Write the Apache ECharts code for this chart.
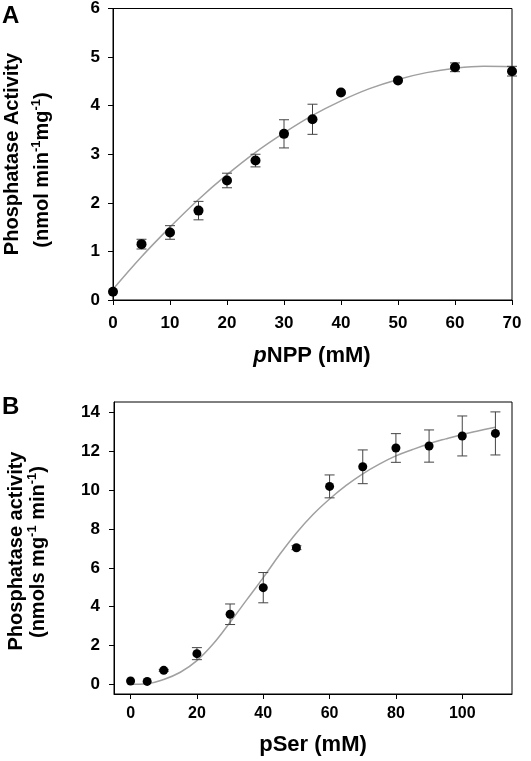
<!DOCTYPE html>
<html>
<head>
<meta charset="utf-8">
<script src="https://cdn.jsdelivr.net/npm/echarts@6/dist/echarts.min.js"></script>
<style>
html,body{margin:0;padding:0;background:#fff;}
#chart{width:531px;height:761px;}
</style>
</head>
<body>
<div id="chart"></div>
<script>
// ---- Panel A data (pNPP) ----
const aX = [0, 5, 10, 15, 20, 25, 30, 35, 40, 50, 60, 70];
const aY = [0.17, 1.15, 1.39, 1.84, 2.46, 2.87, 3.42, 3.72, 4.27, 4.52, 4.79, 4.71];
const aErr = [0, 0.1, 0.14, 0.19, 0.15, 0.13, 0.29, 0.31, 0, 0, 0.09, 0.1];
const aFitX = [0, 5, 10, 15, 20, 25, 30, 35, 40, 45, 50, 55, 60, 65, 70];
const aFitY = [0.22, 0.89, 1.50, 2.07, 2.58, 3.04, 3.44, 3.80, 4.10, 4.35, 4.54, 4.68, 4.77, 4.81, 4.80];

// ---- Panel B data (pSer) ----
const bX = [0, 5, 10, 20, 30, 40, 50, 60, 70, 80, 90, 100, 110];
const bY = [0.17, 0.15, 0.72, 1.58, 3.61, 4.98, 7.04, 10.2, 11.21, 12.18, 12.28, 12.8, 12.93];
const bErr = [0, 0, 0.05, 0.31, 0.53, 0.78, 0.1, 0.59, 0.87, 0.74, 0.83, 1.03, 1.11];
const bFitX = [0, 5, 10, 15, 20, 25, 30, 35, 40, 45, 50, 55, 60, 65, 70, 75, 80, 85, 90, 95, 100, 105, 110];
const bFitY = [0.0, 0.03, 0.25, 0.62, 1.22, 2.1, 3.2, 4.35, 5.5, 6.7, 7.8, 8.75, 9.55, 10.25, 10.85, 11.35, 11.77, 12.1, 12.4, 12.65, 12.88, 13.07, 13.25];
const bTicksX = [0, 20, 40, 60, 80, 100];
const bTicksY = [0, 2, 4, 6, 8, 10, 12, 14];

const FONT = 'Liberation Sans, Arial, sans-serif';
const pts = (xs, ys) => xs.map((x, i) => [x, ys[i]]);
const errs = (xs, ys, es) => xs.map((x, i) => [x, ys[i] - es[i], ys[i] + es[i]]).filter((d, i) => es[i] > 0);

function errRender(params, api) {
  const x = api.value(0), lo = api.value(1), hi = api.value(2);
  const p1 = api.coord([x, lo]), p2 = api.coord([x, hi]);
  const w = 5;
  const st = { stroke: '#444', lineWidth: 1 };
  return { type: 'group', children: [
    { type: 'line', shape: { x1: p1[0], y1: p1[1], x2: p2[0], y2: p2[1] }, style: st },
    { type: 'line', shape: { x1: p1[0] - w, y1: p1[1], x2: p1[0] + w, y2: p1[1] }, style: st },
    { type: 'line', shape: { x1: p2[0] - w, y1: p2[1], x2: p2[0] + w, y2: p2[1] }, style: st }
  ]};
}

const axisCommon = {
  axisLine: { show: true, onZero: false, lineStyle: { color: '#000', width: 1 } },
  axisTick: { show: true, length: 5, lineStyle: { color: '#000', width: 1 } },
  splitLine: { show: false }
};
const supRich = { s: { fontSize: 13, fontWeight: 'bold', fill: '#000', fontFamily: FONT, verticalAlign: 'top', padding: [0, 0, 11, 0] } };

const chart = echarts.init(document.getElementById('chart'), null, { renderer: 'canvas' });
const option = {
  animation: false,
  backgroundColor: '#fff',
  grid: [
    { left: 113, top: 8, width: 399, height: 292, show: true, borderColor: '#000', borderWidth: 1, backgroundColor: 'transparent' },
    { left: 114, top: 402, width: 398, height: 292, show: true, borderColor: '#000', borderWidth: 1, backgroundColor: 'transparent' }
  ],
  xAxis: [
    Object.assign({ type: 'value', gridIndex: 0, min: 0, max: 70, interval: 10,
      axisLabel: { margin: 15, fontSize: 17, fontWeight: 'bold', color: '#000', fontFamily: FONT } }, axisCommon),
    Object.assign({ type: 'value', gridIndex: 1, min: -5, max: 115,
      axisLabel: { margin: 12, fontSize: 16, fontWeight: 'bold', color: '#000', fontFamily: FONT, customValues: bTicksX } }, axisCommon,
      { axisTick: { show: true, length: 5, lineStyle: { color: '#000', width: 1 }, customValues: bTicksX } })
  ],
  yAxis: [
    Object.assign({ type: 'value', gridIndex: 0, min: 0, max: 6, interval: 1,
      axisLabel: { margin: 13, fontSize: 17, fontWeight: 'bold', color: '#000', fontFamily: FONT } }, axisCommon),
    Object.assign({ type: 'value', gridIndex: 1, min: -0.5, max: 14.55,
      axisLabel: { margin: 14, fontSize: 17, fontWeight: 'bold', color: '#000', fontFamily: FONT, customValues: bTicksY } }, axisCommon,
      { axisTick: { show: true, length: 5, lineStyle: { color: '#000', width: 1 }, customValues: bTicksY } })
  ],
  series: [
    { type: 'line', xAxisIndex: 0, yAxisIndex: 0, data: pts(aFitX, aFitY), smooth: 0.4,
      showSymbol: false, symbol: 'none', lineStyle: { color: '#a0a0a0', width: 1.5 }, z: 2 },
    { type: 'custom', xAxisIndex: 0, yAxisIndex: 0, data: errs(aX, aY, aErr), renderItem: errRender, z: 3 },
    { type: 'scatter', xAxisIndex: 0, yAxisIndex: 0, data: pts(aX, aY), symbol: 'circle', symbolSize: 10,
      itemStyle: { color: '#000', opacity: 1 }, z: 4 },
    { type: 'line', xAxisIndex: 1, yAxisIndex: 1, data: pts(bFitX, bFitY), smooth: 0.4,
      showSymbol: false, symbol: 'none', lineStyle: { color: '#a0a0a0', width: 1.5 }, z: 2 },
    { type: 'custom', xAxisIndex: 1, yAxisIndex: 1, data: errs(bX, bY, bErr), renderItem: errRender, z: 3 },
    { type: 'scatter', xAxisIndex: 1, yAxisIndex: 1, data: pts(bX, bY), symbol: 'circle', symbolSize: 9,
      itemStyle: { color: '#000', opacity: 1 }, z: 4 }
  ],
  graphic: [
    { type: 'text', left: 2, top: 4, style: { text: 'A', fontSize: 24, fontWeight: 'bold', fill: '#000', fontFamily: FONT } },
    { type: 'text', left: 2, top: 395, style: { text: 'B', fontSize: 24, fontWeight: 'bold', fill: '#000', fontFamily: FONT } },
    { type: 'text', x: 312, y: 356, style: { text: '{i|p}NPP (mM)', align: 'center', verticalAlign: 'middle', fontSize: 22, fontWeight: 'bold', fill: '#000', fontFamily: FONT,
      rich: { i: { fontSize: 22, fontWeight: 'bold', fontStyle: 'italic', fill: '#000', fontFamily: FONT } } } },
    { type: 'text', x: 313, y: 745, style: { text: 'pSer (mM)', align: 'center', verticalAlign: 'middle', fontSize: 22, fontWeight: 'bold', fill: '#000', fontFamily: FONT } },
    { type: 'text', x: 12, y: 154, rotation: Math.PI / 2, style: { text: 'Phosphatase Activity', align: 'center', verticalAlign: 'middle', fontSize: 20, fontWeight: 'bold', fill: '#000', fontFamily: FONT } },
    { type: 'text', x: 42, y: 170, rotation: Math.PI / 2, style: { text: '(nmol min{s|-1}mg{s|-1})', align: 'center', verticalAlign: 'middle', fontSize: 20, fontWeight: 'bold', fill: '#000', fontFamily: FONT, rich: supRich } },
    { type: 'text', x: 16, y: 551, rotation: Math.PI / 2, style: { text: 'Phosphatase activity', align: 'center', verticalAlign: 'middle', fontSize: 20, fontWeight: 'bold', fill: '#000', fontFamily: FONT } },
    { type: 'text', x: 38, y: 552, rotation: Math.PI / 2, style: { text: '(nmols mg{s|-1} min{s|-1})', align: 'center', verticalAlign: 'middle', fontSize: 20, fontWeight: 'bold', fill: '#000', fontFamily: FONT, rich: supRich } }
  ]
};
chart.setOption(option);
</script>
</body>
</html>
